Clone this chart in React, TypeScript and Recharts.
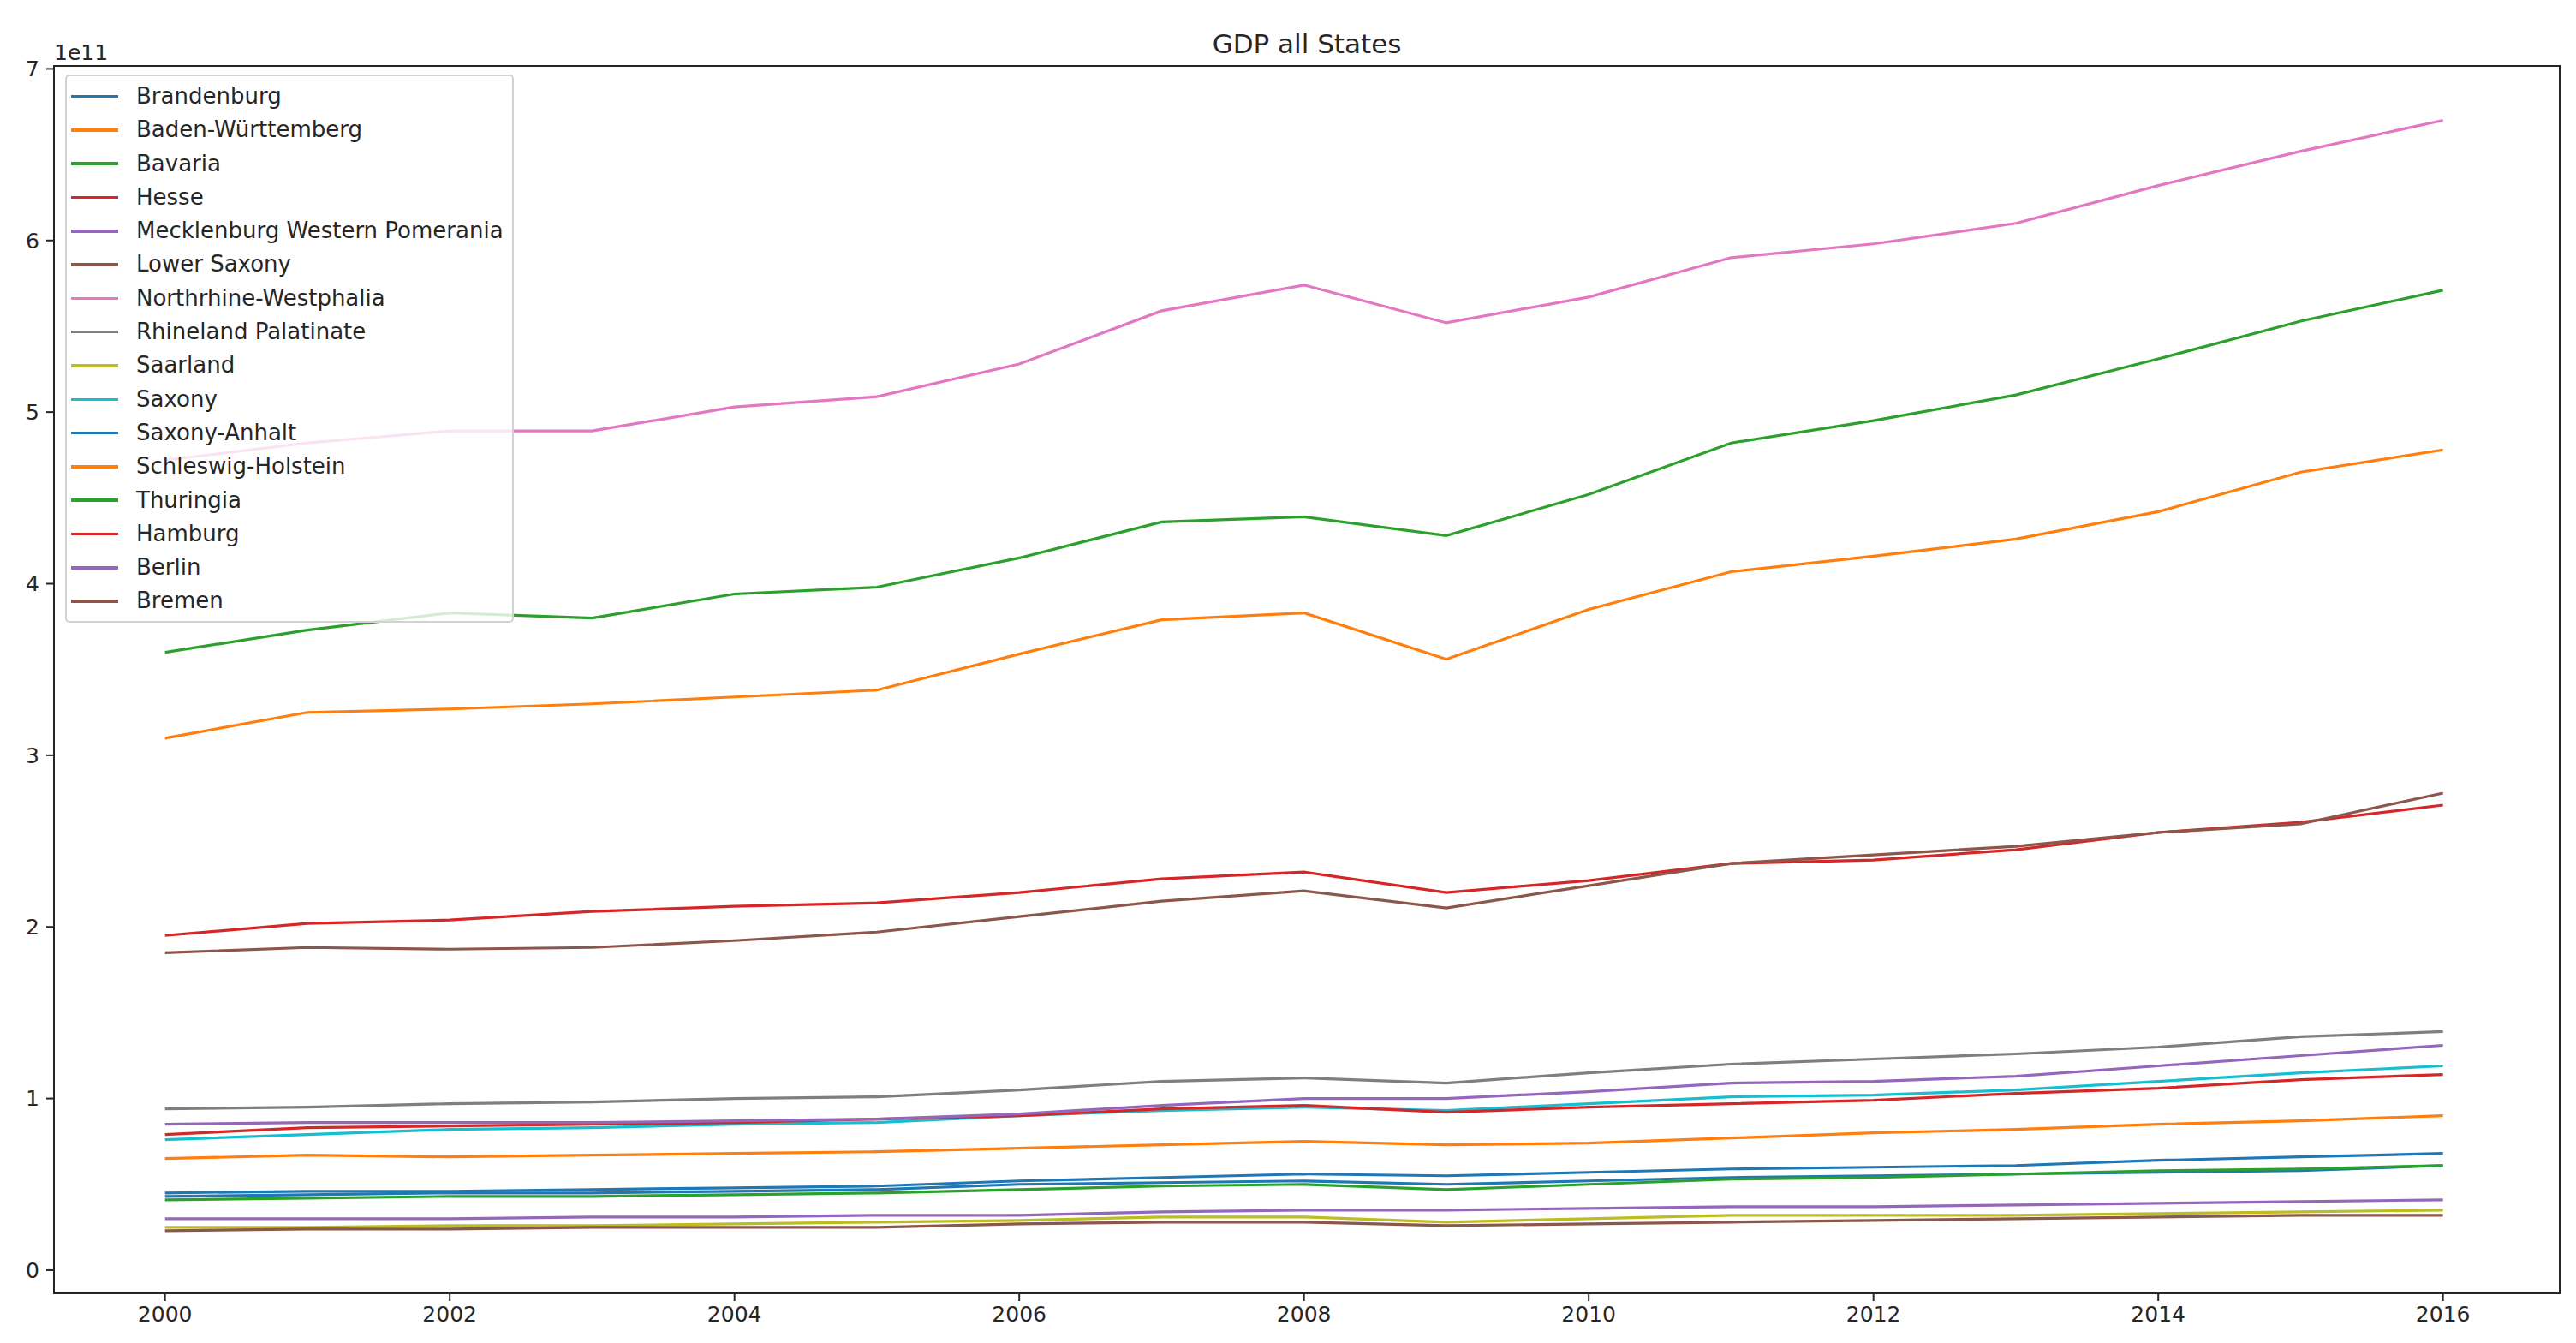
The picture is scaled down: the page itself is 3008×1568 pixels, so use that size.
import React from 'react';
import { LineChart, Line, XAxis, YAxis, ReferenceArea, Legend } from 'recharts';

const years = [2000, 2001, 2002, 2003, 2004, 2005, 2006, 2007, 2008, 2009, 2010, 2011, 2012, 2013, 2014, 2015, 2016];
const xTicks = [2000, 2002, 2004, 2006, 2008, 2010, 2012, 2014, 2016];
const yTicks = [0, 1, 2, 3, 4, 5, 6, 7];

// GDP values in units of 1e11
const brandenburg = [0.45, 0.46, 0.46, 0.47, 0.48, 0.49, 0.52, 0.54, 0.56, 0.55, 0.57, 0.59, 0.6, 0.61, 0.64, 0.66, 0.68];
const badenWuerttemberg = [3.1, 3.25, 3.27, 3.3, 3.34, 3.38, 3.59, 3.79, 3.83, 3.56, 3.85, 4.07, 4.16, 4.26, 4.42, 4.65, 4.78];
const bavaria = [3.6, 3.73, 3.83, 3.8, 3.94, 3.98, 4.15, 4.36, 4.39, 4.28, 4.52, 4.82, 4.95, 5.1, 5.31, 5.53, 5.71];
const hesse = [1.95, 2.02, 2.04, 2.09, 2.12, 2.14, 2.2, 2.28, 2.32, 2.2, 2.27, 2.37, 2.39, 2.45, 2.55, 2.61, 2.71];
const mecklenburg = [0.3, 0.3, 0.3, 0.31, 0.31, 0.32, 0.32, 0.34, 0.35, 0.35, 0.36, 0.37, 0.37, 0.38, 0.39, 0.4, 0.41];
const lowerSaxony = [1.85, 1.88, 1.87, 1.88, 1.92, 1.97, 2.06, 2.15, 2.21, 2.11, 2.24, 2.37, 2.42, 2.47, 2.55, 2.6, 2.78];
const nrw = [4.72, 4.82, 4.89, 4.89, 5.03, 5.09, 5.28, 5.59, 5.74, 5.52, 5.67, 5.9, 5.98, 6.1, 6.32, 6.52, 6.7];
const rhineland = [0.94, 0.95, 0.97, 0.98, 1.0, 1.01, 1.05, 1.1, 1.12, 1.09, 1.15, 1.2, 1.23, 1.26, 1.3, 1.36, 1.39];
const saarland = [0.25, 0.25, 0.26, 0.26, 0.27, 0.28, 0.29, 0.31, 0.31, 0.28, 0.3, 0.32, 0.32, 0.32, 0.33, 0.34, 0.35];
const saxony = [0.76, 0.79, 0.82, 0.83, 0.85, 0.86, 0.9, 0.93, 0.95, 0.93, 0.97, 1.01, 1.02, 1.05, 1.1, 1.15, 1.19];
const saxonyAnhalt = [0.43, 0.44, 0.45, 0.45, 0.46, 0.47, 0.5, 0.51, 0.52, 0.5, 0.52, 0.54, 0.55, 0.56, 0.57, 0.58, 0.61];
const schleswig = [0.65, 0.67, 0.66, 0.67, 0.68, 0.69, 0.71, 0.73, 0.75, 0.73, 0.74, 0.77, 0.8, 0.82, 0.85, 0.87, 0.9];
const thuringia = [0.41, 0.42, 0.43, 0.43, 0.44, 0.45, 0.47, 0.49, 0.5, 0.47, 0.5, 0.53, 0.54, 0.56, 0.58, 0.59, 0.61];
const hamburg = [0.79, 0.83, 0.84, 0.85, 0.86, 0.88, 0.9, 0.94, 0.96, 0.92, 0.95, 0.97, 0.99, 1.03, 1.06, 1.11, 1.14];
const berlin = [0.85, 0.86, 0.86, 0.86, 0.87, 0.88, 0.91, 0.96, 1.0, 1.0, 1.04, 1.09, 1.1, 1.13, 1.19, 1.25, 1.31];
const bremen = [0.23, 0.24, 0.24, 0.25, 0.25, 0.25, 0.27, 0.28, 0.28, 0.26, 0.27, 0.28, 0.29, 0.3, 0.31, 0.32, 0.32];

const seriesNames = [
  'Brandenburg', 'Baden-Württemberg', 'Bavaria', 'Hesse', 'Mecklenburg Western Pomerania',
  'Lower Saxony', 'Northrhine-Westphalia', 'Rhineland Palatinate', 'Saarland', 'Saxony',
  'Saxony-Anhalt', 'Schleswig-Holstein', 'Thuringia', 'Hamburg', 'Berlin', 'Bremen',
];
const seriesValues = [
  brandenburg, badenWuerttemberg, bavaria, hesse, mecklenburg, lowerSaxony, nrw, rhineland,
  saarland, saxony, saxonyAnhalt, schleswig, thuringia, hamburg, berlin, bremen,
];
const palette = ['#1f77b4', '#ff7f0e', '#2ca02c', '#d62728', '#9467bd', '#8c564b', '#e377c2', '#7f7f7f', '#bcbd22', '#17becf'];

const data = years.map((year, i) => {
  const row: Record<string, number> = { year };
  seriesNames.forEach((name, s) => {
    row[name] = seriesValues[s][i];
  });
  return row;
});

const FONT = "'DejaVu Sans', sans-serif";
const X_DOMAIN: [number, number] = [1999.22, 2016.82];
const Y_DOMAIN: [number, number] = [-0.135, 7.017];

const renderLegend = (props: any) => {
  const payload = [...(props.payload || [])].sort(
    (a: any, b: any) => seriesNames.indexOf(a.value) - seriesNames.indexOf(b.value)
  );
  return (
    <div
      style={{
        background: 'rgba(255,255,255,0.8)',
        border: '2px solid #d2d2d2',
        borderRadius: 5,
        width: 524,
        boxSizing: 'border-box',
        paddingTop: 4,
        paddingBottom: 3,
        fontFamily: FONT,
        fontSize: 26,
        color: '#262626',
        textAlign: 'left',
      }}
    >
      {payload.map((entry: any) => (
        <div key={entry.value} style={{ height: 39.3, display: 'flex', alignItems: 'center' }}>
          <div style={{ width: 55, height: 3.5, background: entry.color, marginLeft: 5, marginRight: 21, flex: 'none' }} />
          <span style={{ whiteSpace: 'nowrap', lineHeight: '39.3px' }}>{entry.value}</span>
        </div>
      ))}
    </div>
  );
};

export default function App() {
  return (
    <div style={{ position: 'absolute', left: 0, top: 0, width: 3008, height: 1568, background: '#fff' }}>
      <LineChart width={3008} height={1568} data={data} margin={{ top: 77, right: 19, bottom: 0, left: 0 }}>
        <XAxis
          dataKey="year"
          type="number"
          domain={X_DOMAIN}
          ticks={xTicks}
          allowDataOverflow
          height={58}
          tickSize={9}
          tickMargin={6}
          axisLine={{ stroke: '#262626', strokeWidth: 2 }}
          tickLine={{ stroke: '#262626', strokeWidth: 2 }}
          tick={{ fill: '#262626', fontSize: 25, fontFamily: FONT }}
        />
        <YAxis
          type="number"
          domain={Y_DOMAIN}
          ticks={yTicks}
          allowDataOverflow
          width={63}
          tickSize={9}
          tickMargin={8}
          axisLine={{ stroke: '#262626', strokeWidth: 2 }}
          tickLine={{ stroke: '#262626', strokeWidth: 2 }}
          tick={{ fill: '#262626', fontSize: 25, fontFamily: FONT }}
        />
        <ReferenceArea
          x1={X_DOMAIN[0]}
          x2={X_DOMAIN[1]}
          y1={Y_DOMAIN[0]}
          y2={Y_DOMAIN[1]}
          fill="none"
          fillOpacity={0}
          stroke="#262626"
          strokeWidth={2}
          ifOverflow="visible"
        />
        {seriesNames.map((name, s) => (
          <Line
            key={name}
            type="linear"
            dataKey={name}
            name={name}
            stroke={palette[s % palette.length]}
            strokeWidth={3.2}
            dot={false}
            activeDot={false}
            isAnimationActive={false}
          />
        ))}
        <Legend
          content={renderLegend}
          layout="vertical"
          align="center"
          verticalAlign="middle"
          wrapperStyle={{ position: 'absolute', left: 76, top: 87, width: 524, margin: 0 }}
        />
      </LineChart>
      <svg width={3008} height={1568} style={{ position: 'absolute', left: 0, top: 0, pointerEvents: 'none' }}>
        <text x={1526} y={62} textAnchor="middle" fontSize={31} fontFamily={FONT} fill="#262626">
          GDP all States
        </text>
        <text x={63} y={70} textAnchor="start" fontSize={25} fontFamily={FONT} fill="#262626">
          1e11
        </text>
      </svg>
    </div>
  );
}
